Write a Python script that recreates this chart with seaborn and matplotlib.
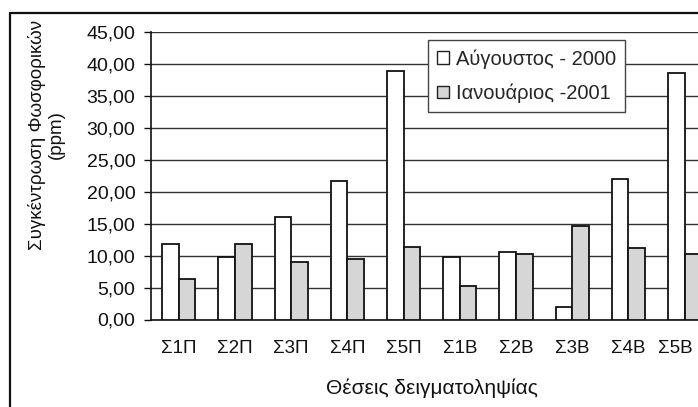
import matplotlib
matplotlib.use("Agg")
import matplotlib.pyplot as plt
import matplotlib.transforms as mtransforms
from matplotlib.lines import Line2D
from matplotlib.ticker import FuncFormatter
import numpy as np
import pandas as pd
import seaborn as sns

# Sampling stations and phosphate concentrations (ppm)
stations = ["Σ1Π", "Σ2Π", "Σ3Π", "Σ4Π", "Σ5Π", "Σ1Β", "Σ2Β", "Σ3Β", "Σ4Β", "Σ5Β"]
august_2000 = [11.83, 9.75, 16.1, 21.75, 39.0, 9.8, 10.5, 1.9, 22.0, 38.6]
january_2001 = [6.4, 11.9, 9.0, 9.5, 11.4, 5.25, 10.2, 14.65, 11.15, 10.2]
series_names = ["Αύγουστος - 2000", "Ιανουάριος -2001"]
y_ticks = [0, 5, 10, 15, 20, 25, 30, 35, 40, 45]

df = pd.DataFrame({
    "station": stations * 2,
    "value": august_2000 + january_2001,
    "period": [series_names[0]] * len(stations) + [series_names[1]] * len(stations),
})

sns.set_style("white")
plt.rcParams["font.family"] = ["Liberation Sans", "DejaVu Sans"]

W, H = 698, 407
fig = plt.figure(figsize=(W / 100, H / 100), dpi=100)
ax = fig.add_axes([150.7 / W, 1 - 319.5 / H, 562 / W, (319.5 - 32.3) / H])

palette = {series_names[0]: "#ffffff", series_names[1]: "#d6d6d6"}
sns.barplot(data=df, x="station", y="value", hue="period", order=stations,
            hue_order=series_names, palette=palette, width=0.59, gap=0,
            edgecolor="#111111", linewidth=1.3, saturation=1, ax=ax, zorder=3)

ax.set_xlim(-0.5, len(stations) - 0.5)
ax.set_ylim(0, 45)
ax.set_yticks(y_ticks)
ax.yaxis.set_major_formatter(FuncFormatter(lambda v, p: f"{v:.2f}".replace(".", ",")))
ax.yaxis.grid(True, color="#333333", linewidth=1.0, zorder=0)
ax.set_axisbelow(True)

ax.set_xticks(range(len(stations)))
ax.set_xticklabels(stations)
ax.set_xticks(np.arange(-0.5, len(stations), 1.0), minor=True)
ax.tick_params(axis="x", which="major", length=0, pad=15, labelsize=13.5, colors="#111111")
ax.tick_params(axis="x", which="minor", length=3, width=0.8, direction="out", color="#555555")
ax.tick_params(axis="y", which="major", length=5, width=1, direction="out", pad=6,
               labelsize=14, colors="#111111", left=True)

# The last station label sits at the figure edge; nudge it inward slightly
last_label = ax.get_xticklabels()[-1]
last_label.set_transform(last_label.get_transform() +
                         mtransforms.ScaledTranslation(-9 / 100, 0, fig.dpi_scale_trans))

for side in ["top", "right"]:
    ax.spines[side].set_visible(False)
for side in ["left", "bottom"]:
    ax.spines[side].set_color("#111111")
    ax.spines[side].set_linewidth(1.2)

ax.set_xlabel("")
ax.set_ylabel("")

leg = ax.legend(loc="upper left", bbox_to_anchor=(427.7 / W, 1 - 40 / H),
                bbox_transform=fig.transFigure, frameon=True, fancybox=False,
                shadow=False, fontsize=14.5, handlelength=0.6, handleheight=0.6,
                handletextpad=0.35, labelspacing=0.75, borderpad=0.45,
                borderaxespad=0, title=None)
leg.get_frame().set_edgecolor("#444444")
leg.get_frame().set_linewidth(1.0)
leg.get_frame().set_alpha(1)
for h in leg.legend_handles:
    h.set_edgecolor("#222222")
    h.set_linewidth(1.0)
leg.set_zorder(5)

fig.text(46 / W, 1 - 135 / H, "Συγκέντρωση Φωσφορικών\n(ppm)", rotation=90,
         ha="center", va="center", multialignment="center", fontsize=13.5,
         color="#111111", linespacing=1.15)
fig.text(432 / W, 1 - 388 / H, "Θέσεις δειγματοληψίας", ha="center", va="center",
         fontsize=15, color="#111111")

# Outer chart frame
fig.add_artist(Line2D([10 / W, 10 / W], [0, 1 - 13 / H], transform=fig.transFigure,
                      color="#111111", linewidth=1.6))
fig.add_artist(Line2D([10 / W, 1], [1 - 13 / H, 1 - 13 / H], transform=fig.transFigure,
                      color="#111111", linewidth=1.6))

fig.savefig("out.png", dpi=100, facecolor="white")
